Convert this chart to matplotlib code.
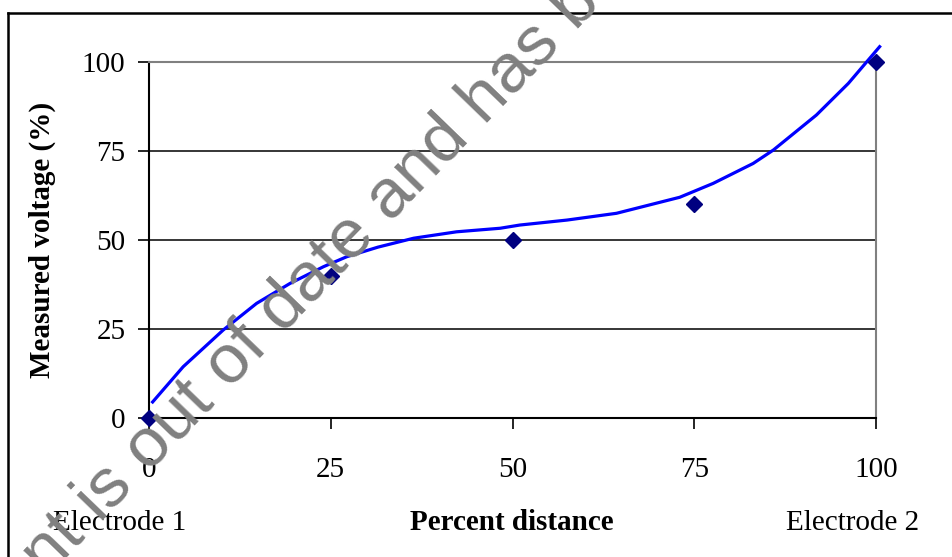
import matplotlib
matplotlib.use("Agg")
import matplotlib.pyplot as plt
from matplotlib.lines import Line2D

# measured points
dist_pts = [0, 25, 50, 75, 100]
volt_pts = [0, 40, 50, 60, 100]

# hand drawn curve
curve_x = [0.5, 4.7, 10.2, 14.8, 19.4, 24.0, 27.2, 31.5, 36.4, 42.3, 48.3, 51.0,
           57.5, 64.3, 73.0, 77.6, 83.1, 85.9, 91.8, 96.2, 100.5]
curve_y = [4.5, 14.4, 24.7, 32.2, 37.8, 42.5, 45.3, 48.0, 50.5, 52.3, 53.3, 54.2,
           55.6, 57.5, 62.0, 65.9, 71.5, 75.3, 85.1, 94.0, 104.3]

ticks = [0, 25, 50, 75, 100]

W, H = 952, 557
fig = plt.figure(figsize=(W / 100, H / 100), dpi=100)
plt.rcParams['font.family'] = ['Liberation Serif', 'DejaVu Serif']

ax = fig.add_axes([149 / W, 1 - 418 / H, (876 - 149) / W, (418 - 62) / H])
ax.set_xlim(0, 100)
ax.set_ylim(0, 100)
ax.set_xticks(ticks)
ax.set_yticks(ticks)
ax.tick_params(axis='both', direction='out', length=8, width=1.2, labelsize=21)
ax.tick_params(axis='x', pad=20)
ax.tick_params(axis='y', pad=9)
for t in ax.get_xticklabels() + ax.get_yticklabels():
    t.set_fontfamily('Liberation Serif')

ax.spines['left'].set_color('black')
ax.spines['bottom'].set_color('black')
ax.spines['left'].set_linewidth(1.5)
ax.spines['bottom'].set_linewidth(1.5)
ax.spines['top'].set_color('#808080')
ax.spines['right'].set_color('#808080')
ax.spines['top'].set_linewidth(1.5)
ax.spines['right'].set_linewidth(1.5)

for g in [25, 50, 75]:
    ax.axhline(g, color='black', linewidth=1.1, zorder=1)

ax.plot(curve_x, curve_y, color='#0000ff', linewidth=2.3, clip_on=False, zorder=3)
ax.plot(dist_pts, volt_pts, linestyle='none', marker='D', markersize=8,
        color='#000080', clip_on=False, zorder=4)

fig.text(42 / W, 1 - 240 / H, 'Measured voltage (%)', rotation=90, ha='center',
         va='center', fontsize=21, fontweight='bold')
fig.text(512 / W, 1 - 522 / H, 'Percent distance', ha='center', va='center',
         fontsize=21, fontweight='bold')
fig.text(120 / W, 1 - 523 / H, 'Electrode 1', ha='center', va='center', fontsize=21)
fig.text(853 / W, 1 - 523 / H, 'Electrode 2', ha='center', va='center', fontsize=21)

# chart frame (left and top edges visible)
fig.add_artist(Line2D([8 / W, 8 / W], [0, 1 - 13 / H], transform=fig.transFigure,
                      color='black', linewidth=1.8))
fig.add_artist(Line2D([8 / W, 1], [1 - 13 / H, 1 - 13 / H], transform=fig.transFigure,
                      color='black', linewidth=1.8))

# watermark
wm = dict(rotation=46, rotation_mode='anchor', fontsize=50, color='#808080',
          family='Liberation Sans', va='baseline', zorder=10)
fig.text(149 / W, 1 - 473 / H, 'out of date and has been replaced', ha='left', **wm)
fig.text(135 / W, 1 - 487 / H, 'This document is', ha='right', **wm)

fig.savefig('out.png', dpi=100)
